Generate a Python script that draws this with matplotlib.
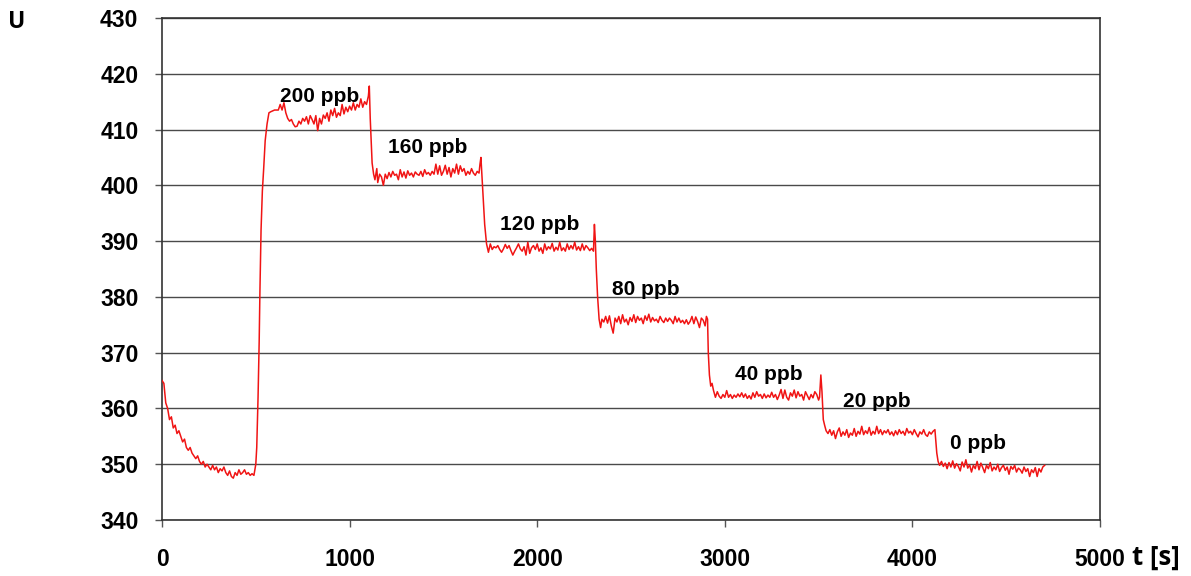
import matplotlib
matplotlib.use("Agg")
import matplotlib.pyplot as plt

# ---- data ----
t = [0, 10, 20, 30, 40, 50, 60, 70, 80, 90, 100, 110, 120, 130, 140, 150, 160, 170, 180, 190,
     200, 210, 220, 230, 240, 250, 260, 270, 280, 290, 300, 310, 320, 330, 340, 350, 360, 370, 380, 390,
     400, 410, 420, 430, 440, 450, 460, 470, 480, 490, 500, 505, 512, 518, 522, 528, 535, 542, 550, 560,
     570, 580, 600, 620, 630, 640, 650, 660, 670, 680, 690, 700, 710, 720, 730, 740, 750, 760, 770, 780,
     790, 800, 810, 820, 830, 840, 850, 860, 870, 880, 890, 900, 910, 920, 930, 940, 950, 960, 970, 980,
     990, 1000, 1010, 1020, 1030, 1040, 1050, 1060, 1070, 1080, 1090, 1100, 1105, 1110, 1115, 1120, 1128, 1135, 1145, 1150,
     1160, 1170, 1180, 1190, 1200, 1210, 1220, 1230, 1240, 1250, 1260, 1270, 1280, 1290, 1300, 1310, 1320, 1330, 1340, 1350,
     1360, 1370, 1380, 1390, 1400, 1410, 1420, 1430, 1440, 1450, 1460, 1470, 1480, 1490, 1500, 1510, 1520, 1530, 1540, 1550,
     1560, 1570, 1580, 1590, 1600, 1610, 1620, 1630, 1640, 1650, 1660, 1670, 1680, 1690, 1695, 1700, 1705, 1712, 1720, 1730,
     1740, 1750, 1760, 1770, 1780, 1790, 1800, 1810, 1820, 1830, 1840, 1850, 1860, 1870, 1880, 1890, 1900, 1910, 1920, 1930,
     1940, 1950, 1960, 1970, 1980, 1990, 2000, 2010, 2020, 2030, 2040, 2050, 2060, 2070, 2080, 2090, 2100, 2110, 2120, 2130,
     2140, 2150, 2160, 2170, 2180, 2190, 2200, 2210, 2220, 2230, 2240, 2250, 2260, 2270, 2280, 2290, 2300, 2305, 2310, 2315,
     2322, 2330, 2338, 2345, 2355, 2365, 2375, 2385, 2395, 2405, 2415, 2425, 2435, 2445, 2455, 2465, 2475, 2485, 2495, 2505,
     2515, 2525, 2535, 2545, 2555, 2565, 2575, 2585, 2595, 2605, 2615, 2625, 2635, 2645, 2655, 2665, 2675, 2685, 2695, 2705,
     2715, 2725, 2735, 2745, 2755, 2765, 2775, 2785, 2795, 2805, 2815, 2825, 2835, 2845, 2855, 2865, 2875, 2885, 2895, 2902,
     2908, 2912, 2918, 2925, 2932, 2940, 2950, 2960, 2970, 2980, 2990, 3000, 3010, 3020, 3030, 3040, 3050, 3060, 3070, 3080,
     3090, 3100, 3110, 3120, 3130, 3140, 3150, 3160, 3170, 3180, 3190, 3200, 3210, 3220, 3230, 3240, 3250, 3260, 3270, 3280,
     3290, 3300, 3310, 3320, 3330, 3340, 3350, 3360, 3370, 3380, 3390, 3400, 3410, 3420, 3430, 3440, 3450, 3460, 3470, 3480,
     3490, 3500, 3505, 3512, 3518, 3525, 3532, 3540, 3550, 3560, 3570, 3580, 3590, 3600, 3610, 3620, 3630, 3640, 3650, 3660,
     3670, 3680, 3690, 3700, 3710, 3720, 3730, 3740, 3750, 3760, 3770, 3780, 3790, 3800, 3810, 3820, 3830, 3840, 3850, 3860,
     3870, 3880, 3890, 3900, 3910, 3920, 3930, 3940, 3950, 3960, 3970, 3980, 3990, 4000, 4010, 4020, 4030, 4040, 4050, 4060,
     4070, 4080, 4090, 4100, 4110, 4120, 4125, 4130, 4137, 4145, 4155, 4165, 4175, 4185, 4195, 4205, 4215, 4225, 4235, 4245,
     4255, 4265, 4275, 4285, 4295, 4305, 4315, 4325, 4335, 4345, 4355, 4365, 4375, 4385, 4395, 4405, 4415, 4425, 4435, 4445,
     4455, 4465, 4475, 4485, 4495, 4505, 4515, 4525, 4535, 4545, 4555, 4565, 4575, 4585, 4595, 4605, 4615, 4625, 4635, 4645,
     4655, 4665, 4675, 4685, 4695, 4705]

u = [365, 364.5, 361, 360, 358, 358.5, 356.5, 357, 355.5, 356, 355, 354, 354.5, 353, 352.5, 353, 352, 351.5, 351, 351.5,
     350.5, 350, 350.5, 349.5, 350, 349.5, 349, 349.8, 349, 349.5, 348.5, 349.2, 348.8, 349.5, 348.5, 348, 348.8, 347.8, 347.5, 348.5,
     348, 349, 348.2, 348.5, 349, 348.2, 348.5, 348, 348.3, 348, 350, 353, 362, 372, 381, 392, 399, 403, 408, 411,
     413, 413.2, 413.5, 413.5, 414.5, 413.5, 414.8, 413, 412, 411.5, 411.8, 411, 410.5, 410.6, 411.5, 411, 412, 411.5, 412.3, 411,
     412.5, 411.8, 411, 412.5, 409.8, 412, 411, 412.6, 412, 413, 411.5, 413.5, 412.5, 413.8, 412.2, 413, 412.5, 414.5, 412.8, 414,
     413.2, 414.2, 413.5, 414.8, 413.5, 414.5, 414, 415.5, 414, 415, 414.5, 416, 417.8, 412, 408, 404, 402, 401, 403, 400.5,
     402, 401.5, 400, 402, 401.2, 402.3, 401.5, 402.5, 401.8, 402, 401, 402.8, 401.5, 402.4, 401.3, 402.6, 401.8, 402.2, 401.5, 402.4,
     402, 401.8, 402.5, 401.6, 402.8, 402, 402.3, 401.8, 402.5, 402, 403.8, 402, 403.5, 401.8, 402.5, 403.6, 402, 403.2, 401.5, 403,
     402.2, 403.8, 402, 403.5, 402.5, 403, 401.8, 402.5, 402, 403, 402.2, 401.8, 402.5, 402.2, 403.8, 405, 402, 398, 393, 389.5,
     388, 389.5, 388.5, 389, 388.8, 389.2, 388.5, 388, 388.6, 389.4, 388.7, 389.2, 388.3, 387.5, 388.2, 388.8, 389.5, 388.6, 388.2, 389,
     387.5, 389.8, 387.8, 388.8, 389.2, 388.5, 389.5, 388.2, 388.8, 387.8, 389.5, 388.4, 389, 388.6, 389.6, 388.2, 388.9, 388.4, 389.8, 388.3,
     388.8, 388.2, 389.5, 388.5, 389.2, 388.6, 389.8, 388.4, 389, 388.3, 389.5, 388.4, 389.2, 388.8, 388.3, 388.7, 388.2, 393, 390, 385,
     380, 376, 374.5, 376, 375.5, 376.5, 375.3, 376.6, 374.8, 373.5, 376.2, 375.5, 376.5, 375.2, 376.8, 375.5, 376, 375, 376.3, 375.6,
     376.8, 375.4, 376.5, 375.8, 376.2, 375.2, 376.6, 375.8, 376.9, 375.5, 376.3, 375.7, 376, 375.4, 376.5, 375.8, 375.4, 376.2, 375.6, 376.2,
     375.8, 375.2, 376.5, 375.5, 376.2, 375.4, 375.8, 375.2, 375.9, 375.1, 375.6, 376.5, 375.2, 376.4, 375.6, 374.5, 376.2, 375.8, 374.8, 376.5,
     376, 370, 366, 364, 364.5, 363.2, 362, 363, 362.2, 361.8, 362.5, 362, 363.2, 362, 362.5, 361.8, 362.4, 362, 362.6, 362.1,
     362.8, 362, 362.6, 361.8, 362.3, 361.7, 362.8, 362, 363, 362.2, 362.5, 361.8, 362.6, 361.9, 362.4, 362, 362.9, 362, 362.5, 361.6,
     362.4, 363.4, 361.8, 363.3, 362, 361.5, 362.8, 362.2, 363.3, 361.9, 363, 362.2, 362.5, 361.5, 363, 362.3, 361.6, 362.5, 361.9, 363,
     362.5, 361.5, 362, 366, 363, 358, 357, 356, 355.5, 356.2, 355.2, 356, 354.6, 355.8, 356.5, 355, 355.8, 355.2, 356.2, 354.8,
     355.6, 355.2, 356.4, 355, 355.9, 355.4, 356.8, 355.3, 356, 355.5, 356.6, 355.2, 355.9, 355.4, 356.8, 355.5, 356.2, 355.3, 356, 355.6,
     356.2, 355.3, 355.8, 355.1, 356, 355.3, 356.2, 355.5, 355.9, 355.2, 356.4, 355.6, 355.9, 355.3, 356.2, 355.5, 354.9, 355.8, 355.4, 356.2,
     355.3, 355, 355.8, 355.4, 355.9, 356.2, 354, 352, 350.5, 349.8, 350.5, 349.6, 350.2, 349.2, 350.3, 349.5, 350.6, 349.3, 350.1, 349.6,
     348.8, 350.4, 349.5, 350.8, 349.3, 349.9, 348.6, 349.8, 349.2, 350.5, 349, 350.2, 349.4, 348.5, 349.8, 349.2, 350.3, 348.8, 349.5, 349,
     350, 348.7, 349.4, 349.8, 348.9, 349.5, 348.2, 349.6, 349.1, 349.8, 348.6, 349.3, 349, 348.4, 349.5, 348.7, 349.2, 347.8, 349, 348.5,
     349.4, 347.8, 349.2, 348.6, 349.5, 349.8]

labels = ["200 ppb", "160 ppb", "120 ppb", "80 ppb", "40 ppb", "20 ppb", "0 ppb"]
label_t = [629, 1205, 1802, 2399, 3054, 3630, 4200]
label_u = [416.0, 406.7, 393.0, 381.4, 366.0, 361.3, 353.8]

x_ticks = [0, 1000, 2000, 3000, 4000, 5000]
y_ticks = [340, 350, 360, 370, 380, 390, 400, 410, 420, 430]

W, H = 1191, 576
fig = plt.figure(figsize=(W / 100, H / 100), dpi=100)
ax = fig.add_axes([162 / W, 1 - 520 / H, (1100 - 162) / W, (520 - 18) / H])

ax.plot(t, u, color="#f01414", lw=1.1, zorder=3)

ax.set_xlim(0, 5000)
ax.set_ylim(340, 430)
ax.set_xticks(x_ticks)
ax.set_yticks(y_ticks)
ax.yaxis.grid(True, color="#4a4a4a", lw=1.0)
ax.set_axisbelow(True)
for s in ax.spines.values():
    s.set_color("#333333")
    s.set_linewidth(1.2)

ax.tick_params(axis="both", direction="out", length=5, color="#555555", width=1)
ax.tick_params(axis="y", pad=12)
ax.tick_params(axis="x", pad=15)
for lab in ax.get_yticklabels():
    lab.set_fontfamily("Liberation Sans"); lab.set_fontweight("bold"); lab.set_fontsize(16.5)
for lab in ax.get_xticklabels():
    lab.set_fontfamily(["Liberation Sans Narrow", "Liberation Sans"])
    lab.set_fontweight("bold"); lab.set_fontsize(16.5)

for txt, xt, yu in zip(labels, label_t, label_u):
    ax.text(xt, yu, txt, fontfamily="Liberation Sans", fontweight="bold", fontsize=15,
            ha="left", va="center", zorder=4)

fig.text(17 / W, 1 - 22 / H, "U", fontfamily="Open Sans", fontweight="bold",
         fontsize=16.5, ha="center", va="center")
fig.text(1132 / W, 1 - 557 / H, "t [s]", fontfamily="Open Sans", fontweight="bold",
         fontsize=18.5, ha="left", va="center")

fig.savefig("out.png", dpi=100)
